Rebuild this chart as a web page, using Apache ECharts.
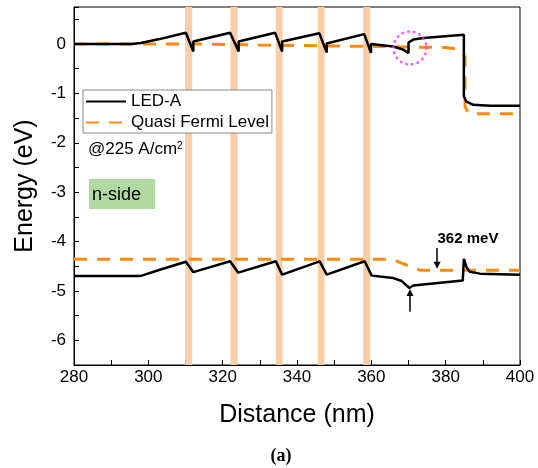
<!DOCTYPE html>
<html><head><meta charset="utf-8">
<script src="https://cdn.jsdelivr.net/npm/echarts@6/dist/echarts.min.js"></script>
<style>html,body{margin:0;padding:0;background:#fff}#c{width:538px;height:468px}</style>
</head><body><div id="c"></div>
<script>
// LED-A conduction band (nm, eV)
const cbX = [280, 295.5, 298, 303, 310.1, 312.1, 312.1, 322.0, 324.3, 324.3, 334.1, 336.0, 336.0, 346.0, 348.0, 348.0, 358.1, 359.9, 359.9, 365.9, 368.5, 370.0, 370.0, 371.3, 374.0, 384.9, 384.9, 385.5, 387.4, 392, 400];
const cbY = [0, 0, 0.02, 0.10, 0.23, -0.15, 0.05, 0.23, -0.15, 0.05, 0.23, -0.15, 0.05, 0.22, -0.17, 0.01, 0.20, -0.18, 0.0, -0.05, -0.11, -0.18, 0.03, 0.09, 0.12, 0.19, -1.06, -1.16, -1.23, -1.25, -1.25];
// LED-A valence band
const vbX = [280, 297.8, 303.1, 310.1, 312.1, 322.0, 324.2, 334.3, 336.0, 346.1, 348.0, 358.2, 360.1, 362.3, 365.9, 368.2, 369.5, 370.2, 371.3, 384.6, 384.9, 385.6, 386.5, 389.2, 400];
const vbY = [-4.70, -4.70, -4.57, -4.41, -4.62, -4.40, -4.63, -4.40, -4.67, -4.40, -4.67, -4.40, -4.69, -4.71, -4.74, -4.80, -4.89, -4.94, -4.89, -4.79, -4.35, -4.52, -4.61, -4.65, -4.67];
// Quasi Fermi level (electron side)
const qfnX = [280, 315, 330, 350, 362, 370, 380, 383, 385.2, 385.2, 386.2, 387.4, 400];
const qfnY = [0, 0, -0.02, -0.04, -0.05, -0.06, -0.07, -0.10, -0.25, -1.27, -1.40, -1.41, -1.41];
// Quasi Fermi level (hole side)
const qfpX = [280, 365.5, 373.1, 400];
const qfpY = [-4.36, -4.36, -4.58, -4.58];
// quantum wells (nm)
const wellStart = [309.9, 322.1, 334.3, 345.6, 357.8];
const wellEnd = [311.8, 324.0, 336.1, 347.4, 359.7];
// tick labels
const xTickLabels = [280, 300, 320, 340, 360, 380, 400];
const yTickLabels = [0, -1, -2, -3, -4, -5, -6];
// annotations (data coords)
const circleAt = [370.4, -0.08];
const arrowDownX = 377.7, arrowDownY = [-4.13, -4.48];
const arrowUpX = 370.4, arrowUpY = [-5.42, -5.03];
const meVText = '362 meV', meVAt = [386.0, -3.95];

const zip = (a, b) => a.map((v, i) => [v, b[i]]);
const FONT = '"Liberation Sans", Arial, sans-serif';
const ORANGE = '#fb8a10';

const chart = echarts.init(document.getElementById('c'), null, {renderer: 'canvas'});
const option = {
  animation: false,
  backgroundColor: '#fff',
  textStyle: {fontFamily: FONT},
  grid: {left: 74, right: 18, top: 7, bottom: 103, show: true, borderColor: '#000', borderWidth: 1, backgroundColor: 'transparent'},
  legend: {
    data: ['LED-A', 'Quasi Fermi Level'],
    orient: 'vertical', left: 83, top: 90,
    itemWidth: 40, itemHeight: 14, itemGap: 4,
    padding: [3, 3, 2, 2],
    borderColor: '#888', borderWidth: 1, backgroundColor: '#fff',
    itemStyle: {opacity: 0},
    textStyle: {fontSize: 17, color: '#000', fontFamily: FONT},
    selectedMode: false
  },
  xAxis: {
    type: 'value', min: 280, max: 400, interval: 10,
    name: 'Distance (nm)', nameLocation: 'middle', nameGap: 38,
    nameTextStyle: {fontSize: 25, color: '#000', fontFamily: FONT},
    axisLine: {onZero: false, lineStyle: {color: '#000', width: 1}},
    axisTick: {inside: true, length: 5, lineStyle: {color: '#000', width: 1}},
    axisLabel: {fontSize: 17, color: '#000', margin: 4, fontFamily: FONT,
      formatter: v => xTickLabels.includes(v) ? String(v) : ''},
    splitLine: {show: false}
  },
  yAxis: {
    type: 'value', min: -6.5, max: 0.75, interval: 0.5,
    name: 'Energy (eV)', nameLocation: 'middle', nameGap: 36, nameRotate: 90,
    nameTextStyle: {fontSize: 25, color: '#000', fontFamily: FONT},
    axisLine: {onZero: false, lineStyle: {color: '#000', width: 1}},
    axisTick: {inside: true, length: 5, lineStyle: {color: '#000', width: 1}},
    axisLabel: {fontSize: 17, color: '#000', margin: 8, fontFamily: FONT,
      formatter: v => yTickLabels.includes(v) ? String(v) : ''},
    splitLine: {show: false}
  },
  series: [
    {
      name: 'wells', type: 'line', data: [], z: 1, silent: true,
      markArea: {
        silent: true,
        itemStyle: {color: '#f9cda6', opacity: 1},
        label: {show: false},
        data: wellStart.map((s, i) => [{xAxis: s}, {xAxis: wellEnd[i]}])
      }
    },
    {
      name: 'LED-A', type: 'line', data: zip(cbX, cbY), symbol: 'none', z: 4,
      lineStyle: {color: '#000', width: 2.5}, itemStyle: {color: '#000'}
    },
    {
      name: 'LED-A', type: 'line', data: zip(vbX, vbY), symbol: 'none', z: 4,
      lineStyle: {color: '#000', width: 2.5}, itemStyle: {color: '#000'},
      markLine: {
        silent: true, symbol: ['none', 'triangle'], symbolSize: 7,
        label: {show: false},
        lineStyle: {color: '#000', width: 1.5, type: 'solid'},
        data: [
          [{coord: [arrowDownX, arrowDownY[0]]}, {coord: [arrowDownX, arrowDownY[1]]}],
          [{coord: [arrowUpX, arrowUpY[0]]}, {coord: [arrowUpX, arrowUpY[1]]}]
        ]
      }
    },
    {
      name: 'Quasi Fermi Level', type: 'line', data: zip(qfnX, qfnY), symbol: 'none', z: 3,
      lineStyle: {color: ORANGE, width: 3, type: [13, 10]}, itemStyle: {color: ORANGE}
    },
    {
      name: 'Quasi Fermi Level', type: 'line', data: zip(qfpX, qfpY), symbol: 'none', z: 3,
      lineStyle: {color: ORANGE, width: 3, type: [13, 10]}, itemStyle: {color: ORANGE}
    },
    {
      name: 'circle', type: 'scatter', data: [circleAt], symbol: 'circle', symbolSize: 33, z: 5, silent: true,
      itemStyle: {color: 'rgba(0,0,0,0)', borderColor: '#ff2bff', borderWidth: 2.6, borderType: [0.5, 5.3], borderCap: 'round'}
    }
  ]
};
chart.setOption(option);

const p = chart.convertToPixel({gridIndex: 0}, meVAt);
chart.setOption({
  graphic: [
    {type: 'text', x: 88, y: 141, z: 10,
      style: {text: '@225 A/cm{s|2}', font: '17px ' + FONT, fill: '#000',
        rich: {s: {fontSize: 10, verticalAlign: 'top', fontFamily: FONT, fill: '#000'}}}},
    {type: 'rect', shape: {x: 89, y: 179, width: 66, height: 30}, z: 10, style: {fill: '#b1d9a1'}},
    {type: 'text', x: 92, y: 195, z: 11,
      style: {text: 'n-side', font: '18px ' + FONT, fill: '#000', textVerticalAlign: 'middle', verticalAlign: 'middle'}},
    {type: 'text', x: p[0], y: p[1], z: 11,
      style: {text: meVText, font: 'bold 15px ' + FONT, fill: '#000', textAlign: 'center', align: 'center', textVerticalAlign: 'middle', verticalAlign: 'middle'}},
    {type: 'text', x: 281, y: 456, z: 11,
      style: {text: '(a)', font: 'bold 18px "Liberation Serif", "Times New Roman", serif', fill: '#000', textAlign: 'center', align: 'center', textVerticalAlign: 'middle', verticalAlign: 'middle'}}
  ]
});
</script>
</body></html>
